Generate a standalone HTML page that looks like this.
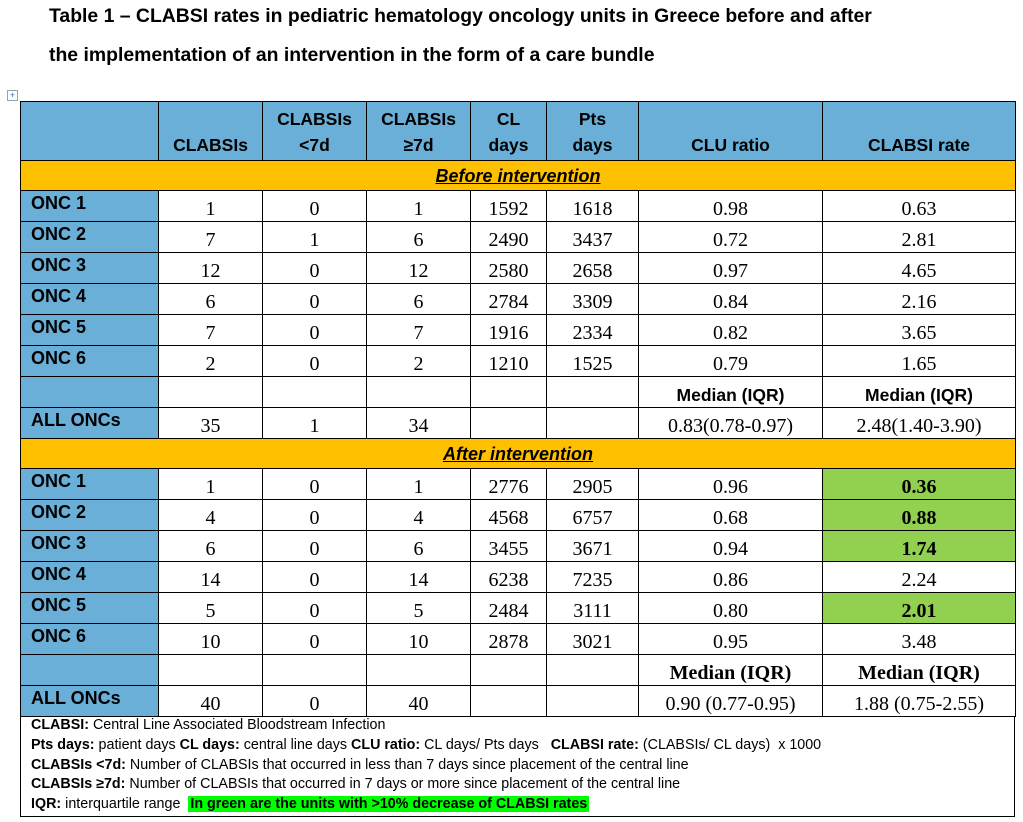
<!DOCTYPE html>
<html><head><meta charset="utf-8"><style>
body{margin:0;width:1023px;height:822px;background:#fff;position:relative;overflow:hidden;font-family:"Liberation Sans",sans-serif}
.t{position:absolute;left:49px;font-weight:bold;font-size:19.4px;color:#000;white-space:nowrap}
table{position:absolute;left:20px;top:101px;border-collapse:collapse;table-layout:fixed;width:995px}
td{border:1.5px solid #000;padding:0;text-align:center;font-family:"Liberation Serif",serif;font-size:20px;vertical-align:bottom;line-height:22px;padding-bottom:1px;overflow:hidden;white-space:nowrap;box-sizing:border-box}
td.l{background:#6AAFD8;text-align:left;padding-left:10px;font-family:"Liberation Sans",sans-serif;font-weight:bold;font-size:18px;vertical-align:top;padding-top:1px;padding-bottom:0}
tr.h td{background:#6AAFD8;font-family:"Liberation Sans",sans-serif;font-weight:bold;font-size:17.5px;line-height:26px;padding-bottom:2px}
tr.o td{background:#FFC000;font-family:"Liberation Sans",sans-serif;font-weight:bold;font-style:italic;text-decoration:underline;font-size:18px;vertical-align:middle;padding:0}
td.g{background:#92D050;font-weight:bold}
td.ms{font-family:"Liberation Sans",sans-serif;font-weight:bold;font-size:17.5px}
td.mb{font-weight:bold;font-size:20px}
tr.r{height:31px}
tr.r td{height:31px}
.f{position:absolute;left:20px;top:716px;width:995px;height:101px;border:1.5px solid #000;border-top:none;font-size:14.3px;line-height:19.8px;padding-left:10px;box-sizing:border-box;padding-top:0px;white-space:nowrap}
.hl{background:#00FF00;font-weight:bold;padding:0 2px}
.ic{position:absolute;left:7px;top:90px;width:9px;height:9px;border:1px solid #8aa;font-size:9px;line-height:9px;text-align:center;color:#46a}
</style></head><body>
<div class="t" style="top:5px">Table 1 – CLABSI rates in pediatric hematology oncology units in Greece before and after</div>
<div class="t" style="top:44px">the implementation of an intervention in the form of a care bundle</div>
<div class="ic">+</div>
<table>
<colgroup><col style="width:138px"><col style="width:104px"><col style="width:104px"><col style="width:104px"><col style="width:76px"><col style="width:92px"><col style="width:184px"><col style="width:193px"></colgroup>
<tr class="h" style="height:59px"><td></td><td>CLABSIs</td><td>CLABSIs<br>&lt;7d</td><td>CLABSIs<br>≥7d</td><td>CL<br>days</td><td>Pts<br>days</td><td>CLU ratio</td><td>CLABSI rate</td></tr>
<tr class="o" style="height:30px"><td colspan="8">Before intervention</td></tr>
<tr class="r"><td class="l">ONC 1</td><td>1</td><td>0</td><td>1</td><td>1592</td><td>1618</td><td>0.98</td><td>0.63</td></tr>
<tr class="r"><td class="l">ONC 2</td><td>7</td><td>1</td><td>6</td><td>2490</td><td>3437</td><td>0.72</td><td>2.81</td></tr>
<tr class="r"><td class="l">ONC 3</td><td>12</td><td>0</td><td>12</td><td>2580</td><td>2658</td><td>0.97</td><td>4.65</td></tr>
<tr class="r"><td class="l">ONC 4</td><td>6</td><td>0</td><td>6</td><td>2784</td><td>3309</td><td>0.84</td><td>2.16</td></tr>
<tr class="r"><td class="l">ONC 5</td><td>7</td><td>0</td><td>7</td><td>1916</td><td>2334</td><td>0.82</td><td>3.65</td></tr>
<tr class="r"><td class="l">ONC 6</td><td>2</td><td>0</td><td>2</td><td>1210</td><td>1525</td><td>0.79</td><td>1.65</td></tr>
<tr class="r"><td class="l"></td><td></td><td></td><td></td><td></td><td></td><td class="ms">Median (IQR)</td><td class="ms">Median (IQR)</td></tr>
<tr class="r"><td class="l">ALL ONCs</td><td>35</td><td>1</td><td>34</td><td></td><td></td><td>0.83(0.78-0.97)</td><td>2.48(1.40-3.90)</td></tr>
<tr class="o" style="height:30px"><td colspan="8">After intervention</td></tr>
<tr class="r"><td class="l">ONC 1</td><td>1</td><td>0</td><td>1</td><td>2776</td><td>2905</td><td>0.96</td><td class="g">0.36</td></tr>
<tr class="r"><td class="l">ONC 2</td><td>4</td><td>0</td><td>4</td><td>4568</td><td>6757</td><td>0.68</td><td class="g">0.88</td></tr>
<tr class="r"><td class="l">ONC 3</td><td>6</td><td>0</td><td>6</td><td>3455</td><td>3671</td><td>0.94</td><td class="g">1.74</td></tr>
<tr class="r"><td class="l">ONC 4</td><td>14</td><td>0</td><td>14</td><td>6238</td><td>7235</td><td>0.86</td><td>2.24</td></tr>
<tr class="r"><td class="l">ONC 5</td><td>5</td><td>0</td><td>5</td><td>2484</td><td>3111</td><td>0.80</td><td class="g">2.01</td></tr>
<tr class="r"><td class="l">ONC 6</td><td>10</td><td>0</td><td>10</td><td>2878</td><td>3021</td><td>0.95</td><td>3.48</td></tr>
<tr class="r"><td class="l"></td><td></td><td></td><td></td><td></td><td></td><td class="mb">Median (IQR)</td><td class="mb">Median (IQR)</td></tr>
<tr class="r"><td class="l">ALL ONCs</td><td>40</td><td>0</td><td>40</td><td></td><td></td><td>0.90 (0.77-0.95)</td><td>1.88 (0.75-2.55)</td></tr>
</table>
<div class="f">
<div><b>CLABSI:</b> Central Line Associated Bloodstream Infection</div>
<div><b>Pts days:</b> patient days <b>CL days:</b> central line days <b>CLU ratio:</b> CL days/ Pts days &nbsp;&nbsp;<b>CLABSI rate:</b> (CLABSIs/ CL days) &nbsp;x 1000</div>
<div><b>CLABSIs &lt;7d:</b> Number of CLABSIs that occurred in less than 7 days since placement of the central line</div>
<div><b>CLABSIs ≥7d:</b> Number of CLABSIs that occurred in 7 days or more since placement of the central line</div>
<div><b>IQR:</b> interquartile range &nbsp;<span class="hl">In green are the units with &gt;10% decrease of CLABSI rates</span></div>
</div>
</body></html>
